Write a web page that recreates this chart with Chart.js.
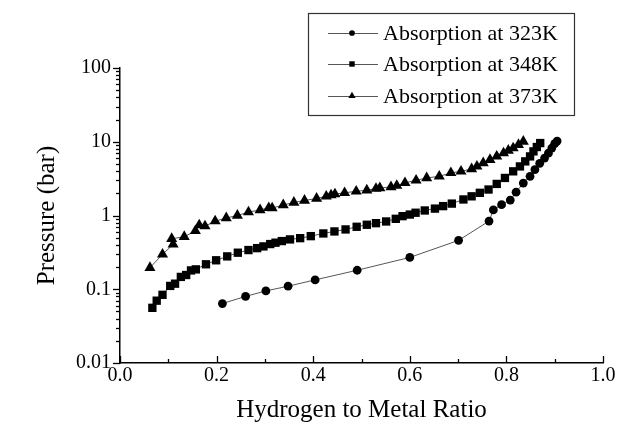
<!DOCTYPE html>
<html>
<head>
<meta charset="utf-8">
<script src="https://cdn.jsdelivr.net/npm/chart.js@4.4.1/dist/chart.umd.min.js"></script>
<style>
html,body{margin:0;padding:0;background:#fff;}
#wrap{width:630px;height:427px;position:relative;}
</style>
</head>
<body>
<div id="wrap"><canvas id="c" width="630" height="427"></canvas></div>
<script>
// ---- data ----
const seriesLabels = ['Absorption at 323K', 'Absorption at 348K', 'Absorption at 373K'];

const x323 = [0.212,0.260,0.302,0.348,0.404,0.491,0.600,0.701,0.764,0.773,0.790,0.808,0.820,0.835,0.849,0.859,0.869,0.879,0.887,0.894,0.900,0.905];
const p323 = [0.064,0.080,0.095,0.110,0.134,0.181,0.27,0.46,0.84,1.19,1.40,1.62,2.07,2.75,3.40,4.2,5.1,6.0,7.0,8.2,9.4,10.2];

const x348 = [0.067,0.076,0.088,0.104,0.114,0.126,0.137,0.147,0.157,0.178,0.199,0.222,0.244,0.266,0.284,0.297,0.311,0.322,0.335,0.352,0.373,0.395,0.421,0.444,0.467,0.490,0.511,0.530,0.551,0.571,0.585,0.600,0.612,0.631,0.652,0.669,0.687,0.711,0.728,0.745,0.763,0.780,0.797,0.814,0.828,0.839,0.849,0.856,0.863,0.870];
const p348 = [0.056,0.070,0.084,0.111,0.119,0.147,0.156,0.180,0.186,0.218,0.247,0.279,0.313,0.340,0.361,0.381,0.410,0.428,0.450,0.474,0.493,0.525,0.571,0.608,0.647,0.703,0.749,0.787,0.830,0.902,0.98,1.03,1.09,1.17,1.24,1.34,1.45,1.65,1.82,2.03,2.25,2.68,3.23,3.97,4.63,5.42,6.33,7.4,8.48,9.6];

const x373 = [0.062,0.088,0.110,0.107,0.133,0.156,0.164,0.176,0.197,0.220,0.243,0.266,0.290,0.308,0.315,0.338,0.360,0.382,0.407,0.427,0.437,0.445,0.465,0.489,0.511,0.530,0.538,0.561,0.573,0.590,0.613,0.635,0.661,0.685,0.706,0.728,0.739,0.752,0.766,0.780,0.794,0.804,0.814,0.825,0.835];
const p373 = [0.196,0.297,0.406,0.484,0.515,0.62,0.74,0.717,0.838,0.925,1.0,1.11,1.19,1.27,1.26,1.39,1.50,1.60,1.70,1.82,1.89,1.95,2.03,2.13,2.20,2.32,2.36,2.44,2.54,2.77,3.0,3.23,3.40,3.78,3.97,4.28,4.63,5.15,5.71,6.33,7.03,7.62,8.22,9.1,10.1];

const xTickValues = [0, 0.2, 0.4, 0.6, 0.8, 1.0];
const xTickLabels = ['0.0', '0.2', '0.4', '0.6', '0.8', '1.0'];
const yTickValues = [0.01, 0.1, 1, 10, 100];
const yTickLabels = ['0.01', '0.1', '1', '10', '100'];

const xTitle = 'Hydrogen to Metal Ratio';
const yTitle = 'Pressure (bar)';

// ---- build ----
function pts(xs, ys){ return xs.map((x, i) => ({x: x, y: ys[i]})); }
const SERIF = '"Liberation Serif", "Times New Roman", serif';

const styles = [
  {pointStyle: 'circle', radius: 4.4},
  {pointStyle: 'rect', radius: 5.9},
  {pointStyle: 'triangle', radius: 6.4}
];
const dataSets = [pts(x323, p323), pts(x348, p348), pts(x373, p373)];

const datasets = dataSets.map((d, i) => ({
  label: seriesLabels[i],
  data: d,
  showLine: true,
  borderColor: '#555',
  borderWidth: 1,
  backgroundColor: '#000',
  pointBackgroundColor: '#000',
  pointBorderColor: '#000',
  pointBorderWidth: 0,
  pointStyle: styles[i].pointStyle,
  pointRadius: styles[i].radius,
  tension: 0
}));

function findLabel(vals, labels, v){
  for (let i = 0; i < vals.length; i++) {
    if (Math.abs(vals[i] - v) <= Math.abs(vals[i]) * 1e-6 + 1e-9) return labels[i];
  }
  return '';
}

const tickPlugin = {
  id: 'customTicks',
  afterDraw(chart){
    const ctx = chart.ctx;
    const xs = chart.scales.x, ys = chart.scales.y;
    const ca = chart.chartArea;
    ctx.save();
    ctx.strokeStyle = '#000';
    ctx.lineWidth = 1.3;
    for (let n = -2; n <= 2; n++) {
      for (let m = 1; m <= 9; m++) {
        const v = m * Math.pow(10, n);
        if (v > 100.0001) break;
        const py = Math.round(ys.getPixelForValue(v)) + 0.5;
        const len = (m === 1) ? 7 : 4;
        ctx.beginPath();
        ctx.moveTo(ca.left, py);
        ctx.lineTo(ca.left - len, py);
        ctx.stroke();
      }
    }
    for (let i = 0; i <= 10; i++) {
      const v = i / 10;
      const px = Math.round(xs.getPixelForValue(v)) + 0.5;
      const len = (i % 2 === 0) ? 7 : 4;
      ctx.beginPath();
      ctx.moveTo(px, ca.bottom);
      ctx.lineTo(px, ca.bottom - len);
      ctx.stroke();
    }
    ctx.restore();
  }
};

const legendPlugin = {
  id: 'boxLegend',
  afterDraw(chart){
    const ctx = chart.ctx;
    ctx.save();
    ctx.strokeStyle = '#333';
    ctx.lineWidth = 1.2;
    ctx.strokeRect(308.5, 13.5, 266, 102);
    const rows = [33, 64, 96];
    chart.data.datasets.forEach((ds, i) => {
      const y = rows[i];
      ctx.strokeStyle = '#555';
      ctx.lineWidth = 1;
      ctx.beginPath();
      ctx.moveTo(328, y + 0.5);
      ctx.lineTo(378, y + 0.5);
      ctx.stroke();
      ctx.fillStyle = '#000';
      ctx.strokeStyle = '#000';
      const r = ds.pointRadius * 0.65;
      if (Chart.helpers && Chart.helpers.drawPoint) {
        Chart.helpers.drawPoint(ctx, {pointStyle: ds.pointStyle, radius: r, borderWidth: 0, rotation: 0}, 352, y);
      } else {
        ctx.beginPath(); ctx.arc(352, y, r, 0, Math.PI * 2); ctx.fill();
      }
      ctx.font = '22px ' + SERIF;
      ctx.fillStyle = '#000';
      ctx.textBaseline = 'alphabetic';
      ctx.textAlign = 'left';
      ctx.fillText(ds.label, 383, y + 7);
    });
    ctx.restore();
  }
};

new Chart(document.getElementById('c'), {
  type: 'scatter',
  data: {datasets: datasets},
  options: {
    responsive: false,
    animation: false,
    devicePixelRatio: 1,
    layout: {padding: {left: 0, right: 27, top: 68, bottom: 0}},
    plugins: {legend: {display: false}, tooltip: {enabled: false}},
    scales: {
      x: {
        type: 'linear',
        min: 0, max: 1,
        afterFit(s){ s.height = 64; },
        afterBuildTicks(s){ s.ticks = xTickValues.map(v => ({value: v})); },
        grid: {display: false, drawTicks: false},
        border: {display: true, color: '#000', width: 1.5},
        ticks: {
          color: '#000',
          padding: 1,
          maxRotation: 0,
          autoSkip: false,
          font: {family: SERIF, size: 20},
          callback: (v) => findLabel(xTickValues, xTickLabels, v)
        },
        title: {display: true, text: xTitle, color: '#000', font: {family: SERIF, size: 25}, padding: {top: 0, bottom: 2}}
      },
      y: {
        type: 'logarithmic',
        min: 0.01, max: 100,
        afterFit(s){ s.width = 120; },
        afterBuildTicks(s){ s.ticks = yTickValues.map(v => ({value: v, major: true})); },
        grid: {display: false, drawTicks: false},
        border: {display: true, color: '#000', width: 1.5},
        ticks: {
          color: '#000',
          padding: 9,
          autoSkip: false,
          font: {family: SERIF, size: 20},
          callback: (v) => findLabel(yTickValues, yTickLabels, v)
        },
        title: {display: true, text: yTitle, color: '#000', font: {family: SERIF, size: 25}, padding: {top: 32, bottom: 0}}
      }
    }
  },
  plugins: [tickPlugin, legendPlugin]
});
</script>
</body>
</html>
